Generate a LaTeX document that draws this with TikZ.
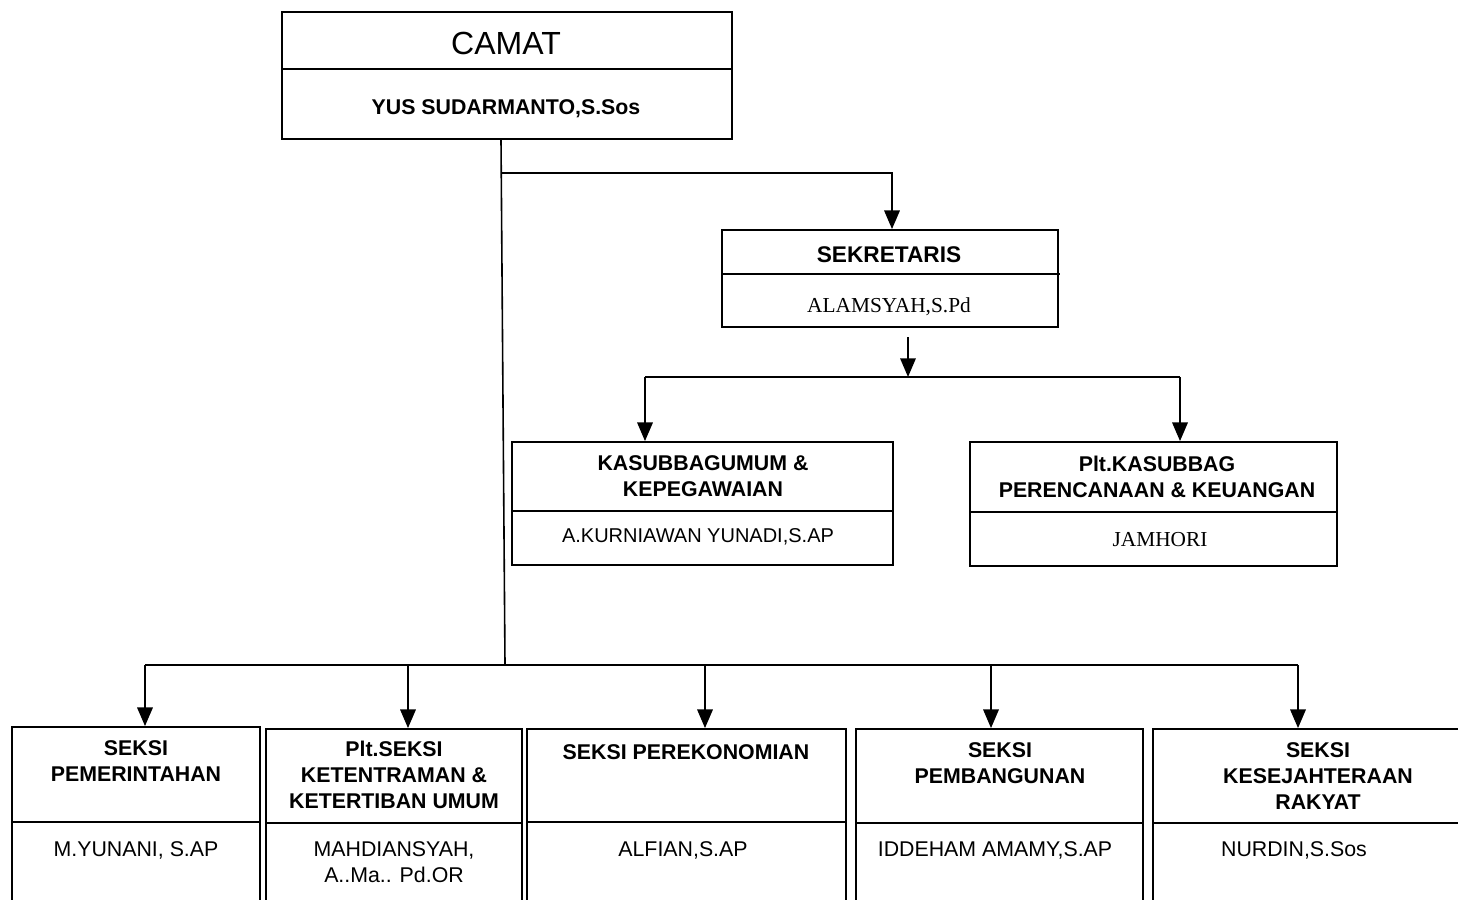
\documentclass[tikz,border=0pt]{standalone}
\usepackage{fontspec}
\setmainfont{Liberation Sans}
\newfontfamily\tmsfont{Liberation Serif}
\usetikzlibrary{arrows.meta}
\begin{document}
\begin{tikzpicture}[x=0.75pt,y=-0.75pt,
  box/.style={draw, line width=1.3pt, rectangle, inner sep=0pt},
  divline/.style={line width=1.1pt},
  conn/.style={line width=1.7pt},
  mainline/.style={line width=1.2pt},
  arr/.style={conn, -{Triangle[width=11.5pt,length=14pt]}},
  hd/.style={font=\fontsize{16}{19.5}\selectfont\bfseries, align=center, inner sep=0pt},
  nm/.style={font=\fontsize{16}{19}\selectfont, align=center, inner sep=0pt},
  tn/.style={font=\fontsize{16}{19}\selectfont\tmsfont, align=center, inner sep=0pt}]
\useasboundingbox (0,0) rectangle (1458,899);
\fill[white] (0,0) rectangle (1458,899);
\begin{scope}
\clip (0,0) rectangle (1458,899);
% boxes
\node[box, minimum width=337.5pt, minimum height=95.25pt] (camat) at (507,75.5) {};
\node[box, minimum width=252pt, minimum height=72.75pt] (sek) at (890,278.5) {};
\node[box, minimum width=285.75pt, minimum height=92.25pt] (kum) at (702.5,503.5) {};
\node[box, minimum width=275.25pt, minimum height=93pt] (kku) at (1153.5,504) {};
\node[box, minimum width=186pt, minimum height=152.25pt] (s1) at (136,828.5) {};
\node[box, minimum width=192pt, minimum height=150.75pt] (s2) at (394,829.5) {};
\node[box, minimum width=239.25pt, minimum height=150.75pt] (s3) at (686.5,829.5) {};
\node[box, minimum width=215.25pt, minimum height=150.75pt] (s4) at (999.5,829.5) {};
\node[box, minimum width=241.5pt, minimum height=150.75pt] (s5) at (1314,829.5) {};
% dividers
\draw[divline] (camat.west |- 0,69) -- (camat.east |- 0,69);
\draw[divline] (sek.west |- 0,274) -- (1060,274);
\draw[divline] (kum.west |- 0,511) -- (kum.east |- 0,511);
\draw[divline] (kku.west |- 0,512) -- (kku.east |- 0,512);
\draw[divline] (s1.west |- 0,822) -- (s1.east |- 0,822);
\draw[divline] (s2.west |- 0,823) -- (s2.east |- 0,823);
\draw[divline] (s3.west |- 0,822) -- (s3.east |- 0,822);
\draw[divline] (s4.west |- 0,823) -- (s4.east |- 0,823);
\draw[divline] (s5.west |- 0,823) -- (s5.east |- 0,823);
% texts
\node[font=\fontsize{24}{28}\selectfont, inner sep=0pt] (tcamat) at (506,43) {CAMAT};
\node[hd] (tyus) at (506,109) {YUS SUDARMANTO,S.Sos};
\node[hd, font=\fontsize{17}{20}\selectfont\bfseries] (tsek) at (889,255) {SEKRETARIS};
\node[tn] (talam) at (889,307) {ALAMSYAH,S.Pd};
\node[hd] (tkum) at (703,476) {KASUBBAGUMUM \&\\KEPEGAWAIAN};
\node[nm, font=\fontsize{15}{18}\selectfont] (nkum) at (698,537) {A.KURNIAWAN YUNADI,S.AP};
\node[hd] (tkku) at (1157,477) {Plt.KASUBBAG\\PERENCANAAN \& KEUANGAN};
\node[tn] (nkku) at (1160,540) {JAMHORI};
\node[hd] (ts1) at (136,761) {SEKSI\\PEMERINTAHAN};
\node[nm] (ns1) at (136,850) {M.YUNANI, S.AP};
\node[hd] (ts2) at (394,775) {Plt.SEKSI\\KETENTRAMAN \&\\KETERTIBAN UMUM};
\node[nm] (ns2) at (394,862) {MAHDIANSYAH,\\A..Ma.. Pd.OR};
\node[hd] (ts3) at (686,752) {SEKSI PEREKONOMIAN};
\node[nm] (ns3) at (683,850) {ALFIAN,S.AP};
\node[hd] (ts4) at (1000,763) {SEKSI\\PEMBANGUNAN};
\node[nm] (ns4) at (995,850) {IDDEHAM AMAMY,S.AP};
\node[hd] (ts5) at (1318,776) {SEKSI\\KESEJAHTERAAN\\RAKYAT};
\node[nm] (ns5) at (1294,850) {NURDIN,S.Sos};
% connectors
\coordinate (busM) at (505,665);
\coordinate (busL) at (145,665);
\coordinate (busR) at (1298,665);
\coordinate (j1) at (501.3,173);
\draw[mainline] (camat.south -| 501,0) -- (busM);
\draw[arr] (j1) -| (sek.north -| 892,0);
\coordinate (sa) at (908,337);
\coordinate (sj) at (908,377);
\coordinate (kL) at (645,377);
\coordinate (kR) at (1180,377);
\draw[arr] (sa) -- (sj);
\draw[conn] (kL) -- (kR);
\draw[arr] (kL) -- (kum.north -| kL);
\draw[arr] (kR) -- (kku.north -| kR);
\draw[conn] (busL) -- (busR);
\draw[arr] (busL) -- (s1.north -| busL);
\draw[arr] (408,665) -- (s2.north -| 408,0);
\draw[arr] (705,665) -- (s3.north -| 705,0);
\draw[arr] (991,665) -- (s4.north -| 991,0);
\draw[arr] (busR) -- (s5.north -| busR);
\end{scope}
\end{tikzpicture}
\end{document}
